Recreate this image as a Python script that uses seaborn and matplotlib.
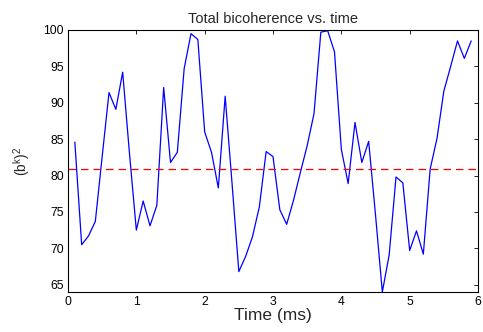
import numpy as np
import pandas as pd
import matplotlib
matplotlib.use("Agg")
import matplotlib.pyplot as plt
import seaborn as sns

time_ms = [round(0.1 * i, 1) for i in range(1, 60)]
bicoherence = [
    84.6, 70.5, 71.7, 73.7, 82.6, 91.4, 89.1, 94.2, 83.0, 72.5,
    76.5, 73.1, 75.9, 92.1, 81.8, 83.2, 94.7, 99.5, 98.7, 86.0,
    83.2, 78.3, 90.9, 79.0, 66.8, 68.9, 71.6, 75.7, 83.3, 82.6,
    75.3, 73.3, 76.6, 80.4, 84.1, 88.5, 99.7, 99.9, 97.0, 83.6,
    78.9, 87.3, 81.8, 84.7, 74.6, 64.0, 69.1, 79.8, 79.0, 69.7,
    72.4, 69.2, 80.9, 85.1, 91.6, 95.0, 98.5, 96.1, 98.5,
]
mean_level = 80.9

sns.set_theme(style="white")
plt.rcParams['font.family'] = ['Liberation Sans', 'DejaVu Sans']
plt.rcParams['mathtext.fontset'] = 'custom'
plt.rcParams['mathtext.rm'] = 'Liberation Sans'
plt.rcParams['mathtext.it'] = 'Liberation Sans'

df = pd.DataFrame({"t": time_ms, "b": bicoherence})

fig = plt.figure(figsize=(4.83, 3.32), dpi=100)
ax = fig.add_axes([68/483, 1 - 292/332, 410/483, 262/332])
sns.lineplot(data=df, x="t", y="b", ax=ax, color="#0000ff", linewidth=0.9)
ax.axhline(mean_level, color="#ff0000", linestyle=(0, (6, 4)), linewidth=0.9)

ax.set_xlim(0, 6)
ax.set_ylim(64, 100)
ax.set_xticks(range(0, 7))
ax.set_yticks(range(65, 101, 5))
ax.tick_params(direction="in", length=3, width=0.6, top=True, right=True,
               labelsize=8.8, colors="black", pad=3)
for s in ax.spines.values():
    s.set_visible(True)
    s.set_color("black")
    s.set_linewidth(0.8)
ax.set_title("Total bicoherence vs. time", fontsize=10.5, pad=5)
ax.set_xlabel("Time (ms)", fontsize=12.5, labelpad=0)
ax.set_ylabel(r"$(\mathrm{b}^{\mathrm{k}})^2$", fontsize=10, labelpad=8)
ax.grid(False)

fig.savefig("out.png", dpi=100)
